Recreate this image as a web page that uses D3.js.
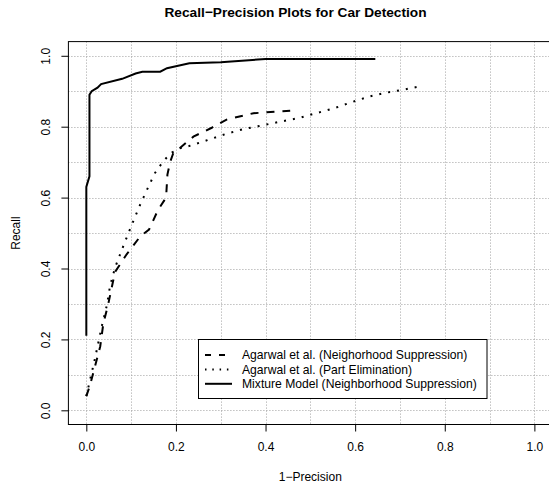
<!DOCTYPE html>
<html>
<head>
<meta charset="utf-8">
<script src="https://cdn.jsdelivr.net/npm/d3@7"></script>
<style>
  body { margin: 0; background: #fff; }
  text { font-family: "Liberation Sans", Arial, sans-serif; }
</style>
</head>
<body>
<script>
// data -------------------------------------------------------------------
var chartTitle = "Recall\u2212Precision Plots for Car Detection";
var xTitle = "1\u2212Precision";
var yTitle = "Recall";
var tickValues = [0, 0.2, 0.4, 0.6, 0.8, 1.0];
var tickLabels = ["0.0", "0.2", "0.4", "0.6", "0.8", "1.0"];
var gridValues = [0, 0.1, 0.2, 0.3, 0.4, 0.5, 0.6, 0.7, 0.8, 0.9, 1.0];

var seriesNames = [
  "Agarwal et al. (Neighorhood Suppression)",
  "Agarwal et al. (Part Elimination)",
  "Mixture Model (Neighborhood Suppression)"
];

// Agarwal, neighbourhood suppression (dashed)
var neighX = [0.0, 0.008, 0.031, 0.038, 0.049, 0.064, 0.09, 0.12, 0.14, 0.16, 0.178, 0.181, 0.187, 0.194, 0.209, 0.239, 0.28, 0.313, 0.373, 0.455];
var neighY = [0.04, 0.07, 0.18, 0.245, 0.30, 0.39, 0.44, 0.49, 0.51, 0.565, 0.60, 0.665, 0.70, 0.725, 0.74, 0.772, 0.797, 0.82, 0.838, 0.845];

// Agarwal, part elimination (dotted)
var partX = [0.0, 0.02, 0.035, 0.046, 0.053, 0.064, 0.079, 0.094, 0.118, 0.135, 0.153, 0.164, 0.178, 0.191, 0.209, 0.231, 0.27, 0.31, 0.35, 0.39, 0.432, 0.473, 0.513, 0.553, 0.592, 0.631, 0.67, 0.711, 0.752];
var partY = [0.04, 0.15, 0.24, 0.297, 0.351, 0.402, 0.452, 0.50, 0.574, 0.621, 0.669, 0.689, 0.711, 0.727, 0.739, 0.746, 0.762, 0.779, 0.793, 0.803, 0.814, 0.824, 0.838, 0.852, 0.869, 0.885, 0.896, 0.905, 0.916];

// mixture model (solid)
var mixX = [0.0, 0.0, 0.007, 0.007, 0.012, 0.025, 0.033, 0.08, 0.11, 0.125, 0.165, 0.18, 0.23, 0.30, 0.40, 0.645];
var mixY = [0.21, 0.63, 0.66, 0.89, 0.90, 0.91, 0.92, 0.935, 0.95, 0.955, 0.955, 0.965, 0.979, 0.982, 0.991, 0.991];

var lineDash = ["8,8", "2,7", null];
var legendDash = ["6,8", "1.5,5.8", null];

// set up ------------------------------------------------------------------
var width = 549, height = 485;
var plot = {left: 68.4, right: 552.3, top: 41.6, bottom: 424.5};
var fontSize = 12;

var svg = d3.select("body")
  .append("svg")
    .attr("width", width)
    .attr("height", height);

var xScale = d3.scaleLinear()
  .domain([-0.04, 1.04])
  .range([plot.left, plot.right]);

var yScale = d3.scaleLinear()
  .domain([-0.04, 1.04])
  .range([plot.bottom, plot.top]);

// grid ---------------------------------------------------------------------
var grid = svg.append("g")
  .attr("stroke", "#a0a0a0")
  .attr("stroke-width", 1)
  .attr("stroke-dasharray", "1,2");

grid.selectAll(".gx")
  .data(gridValues)
  .enter()
  .append("line")
    .attr("x1", function(d) { return Math.round(xScale(d)) + 0.5; })
    .attr("x2", function(d) { return Math.round(xScale(d)) + 0.5; })
    .attr("y1", plot.top)
    .attr("y2", plot.bottom);

grid.selectAll(".gy")
  .data(gridValues)
  .enter()
  .append("line")
    .attr("y1", function(d) { return Math.round(yScale(d)) + 0.5; })
    .attr("y2", function(d) { return Math.round(yScale(d)) + 0.5; })
    .attr("x1", plot.left)
    .attr("x2", plot.right);

// axes ---------------------------------------------------------------------
var xAxis = d3.axisBottom(xScale)
  .tickValues(tickValues)
  .tickFormat(function(d, i) { return tickLabels[i]; })
  .tickSize(7)
  .tickPadding(11);

svg.append("g")
  .attr("transform", "translate(0," + plot.bottom + ")")
  .call(xAxis)
  .call(function(g) {
    g.select(".domain").remove();
    g.selectAll("text").attr("font-size", fontSize).attr("font-family", "Liberation Sans, Arial, sans-serif").attr("fill", "#000");
  });

var yAxis = d3.axisLeft(yScale)
  .tickValues(tickValues)
  .tickFormat(function(d, i) { return tickLabels[i]; })
  .tickSize(7);

svg.append("g")
  .attr("transform", "translate(" + plot.left + ",0)")
  .call(yAxis)
  .call(function(g) {
    g.select(".domain").remove();
    // rotated labels like R's default las = 0
    g.selectAll("text")
      .attr("font-size", fontSize)
      .attr("font-family", "Liberation Sans, Arial, sans-serif")
      .attr("fill", "#000")
      .attr("x", null)
      .attr("dy", null)
      .attr("y", 0)
      .attr("text-anchor", "middle")
      .attr("transform", "translate(-18,0) rotate(-90)");
  });

// box round the plot
svg.append("rect")
  .attr("x", plot.left)
  .attr("y", plot.top)
  .attr("width", plot.right - plot.left)
  .attr("height", plot.bottom - plot.top)
  .attr("fill", "none")
  .attr("stroke", "#000")
  .attr("stroke-width", 1);

// lines --------------------------------------------------------------------
var line = d3.line()
  .x(function(d) { return xScale(d[0]); })
  .y(function(d) { return yScale(d[1]); });

var allSeries = [
  d3.zip(neighX, neighY),
  d3.zip(partX, partY),
  d3.zip(mixX, mixY)
];

svg.selectAll(".curve")
  .data(allSeries)
  .enter()
  .append("path")
    .attr("class", "curve")
    .attr("d", line)
    .attr("fill", "none")
    .attr("stroke", "#000")
    .attr("stroke-width", 2)
    .attr("stroke-dasharray", function(d, i) { return lineDash[i]; });

// legend -------------------------------------------------------------------
var legend = svg.append("g");

legend.append("rect")
  .attr("x", 198.5)
  .attr("y", 339.5)
  .attr("width", 288.5)
  .attr("height", 59)
  .attr("fill", "#fff")
  .attr("stroke", "#000")
  .attr("stroke-width", 1);

var rows = legend.selectAll(".row")
  .data(seriesNames)
  .enter()
  .append("g")
    .attr("transform", function(d, i) { return "translate(0," + (355 + i * 14.4) + ")"; });

rows.append("line")
  .attr("x1", 205)
  .attr("x2", 232)
  .attr("y1", 0)
  .attr("y2", 0)
  .attr("stroke", "#000")
  .attr("stroke-width", 2)
  .attr("stroke-dasharray", function(d, i) { return legendDash[i]; });

rows.append("text")
  .attr("x", 242)
  .attr("y", 4.3)
  .attr("font-size", 12.15)
  .text(function(d) { return d; });

// titles -------------------------------------------------------------------
svg.append("text")
  .attr("x", 295.5)
  .attr("y", 16.5)
  .attr("text-anchor", "middle")
  .attr("font-size", 13.7)
  .attr("font-weight", "bold")
  .text(chartTitle);

svg.append("text")
  .attr("x", 310.3)
  .attr("y", 481.3)
  .attr("text-anchor", "middle")
  .attr("font-size", fontSize)
  .text(xTitle);

svg.append("text")
  .attr("transform", "translate(20.4," + ((plot.top + plot.bottom) / 2) + ") rotate(-90)")
  .attr("text-anchor", "middle")
  .attr("font-size", fontSize)
  .text(yTitle);
</script>
</body>
</html>
